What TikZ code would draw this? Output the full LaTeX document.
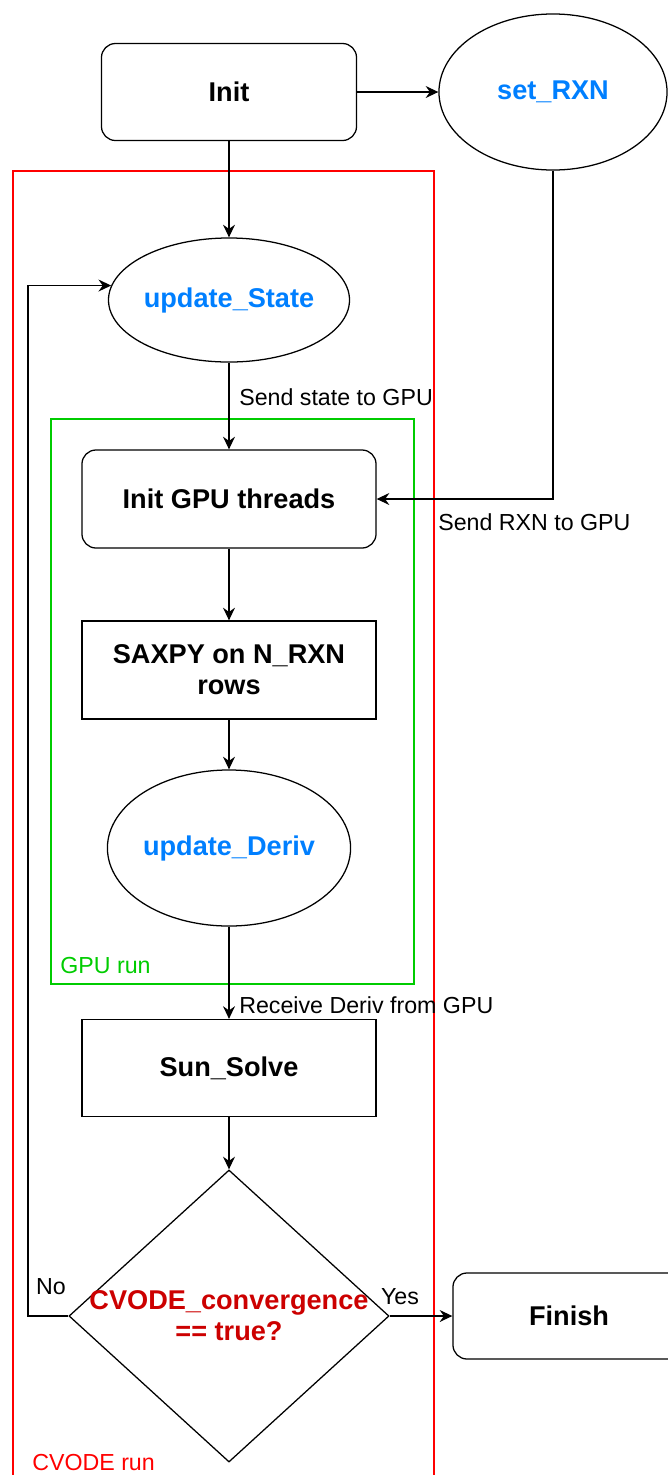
\documentclass[tikz,border=0pt]{standalone}
\usepackage{fontspec}
\setmainfont{Liberation Sans}
\usepackage{tikz}
\usetikzlibrary{positioning, arrows.meta, shapes.geometric}

\begin{document}
\begin{tikzpicture}[x=0.025cm, y=-0.025cm, line width=0.9pt,
    box/.style={draw, minimum width=7.35cm, minimum height=2.45cm, inner sep=0pt, align=center, font=\fontsize{19.3}{22}\selectfont\bfseries},
    roundbox/.style={box, rounded corners=10pt},
    oval/.style={draw, ellipse, inner sep=0pt, text=funccolor, font=\fontsize{19.3}{22}\selectfont\bfseries},
    decision/.style={draw, diamond, inner sep=0pt, minimum width=8cm, minimum height=7.3cm},
    condtext/.style={text=condcolor, align=center, font=\fontsize{19.3}{22}\selectfont\bfseries},
    edgelbl/.style={anchor=west, font=\fontsize{16.5}{19}\selectfont},
    flow/.style={-{Stealth[length=9pt, width=8.5pt, inset=3pt]}}]
    % Define colors
    \definecolor{funccolor}{RGB}{0, 127, 255}
    \definecolor{condcolor}{RGB}{204, 0, 0}
    \definecolor{cvodecolor}{RGB}{255, 0, 0}
    \definecolor{gpucolor}{RGB}{0, 204, 0}

    \useasboundingbox (0, 0) rectangle (668, 1475);

    % Run regions
    \draw[cvodecolor] (13, 171) rectangle (434, 1490);
    \node[edgelbl, text=cvodecolor] (cvodelbl) at (27, 1462) {CVODE run};
    \draw[gpucolor] (51, 419) rectangle (414, 984);
    \node[edgelbl, text=gpucolor] (gpulbl) at (55, 965) {GPU run};

    % Steps
    \node[roundbox, minimum width=6.375cm, minimum height=2.425cm] (init) at (229, 92) {Init};
    \node[oval, minimum width=5.7cm, minimum height=3.9cm] (setrxn) at (553, 92) {set\_RXN};
    \node[oval, minimum width=5.9cm, minimum height=3.1cm] (state) at (229, 300) {update\_State};
    \node[roundbox] (gputhreads) at (229, 499) {Init GPU threads};
    \node[box] (saxpy) at (229, 670) {SAXPY on N\_RXN\\rows};
    \node[oval, minimum width=5.9cm, minimum height=3.9cm] (deriv) at (229, 848) {update\_Deriv};
    \node[box, minimum height=2.425cm] (sunsolve) at (229, 1068) {Sun\_Solve};
    \node[decision, label={[condtext]center:{CVODE\_convergence\\== true?}}] (cond) at (229, 1316) {};
    \node[roundbox, minimum width=5.8cm, minimum height=2.15cm] (finish) at (569, 1316) {Finish};

    % Connectors
    \draw[flow] (init) -- (state);
    \draw[flow] (init) -- (setrxn);
    \draw[flow] (state) -- (gputhreads);
    \node[edgelbl] (sendstate) at (234, 397) {Send state to GPU};
    \draw[flow] (setrxn.south) |- (gputhreads.east);
    \node[edgelbl] (sendrxn) at (433, 522) {Send RXN to GPU};
    \draw[flow] (gputhreads) -- (saxpy);
    \draw[flow] (saxpy) -- (deriv);
    \draw[flow] (deriv) -- (sunsolve);
    \node[edgelbl] (recvderiv) at (234, 1005) {Receive Deriv from GPU};
    \draw[flow] (sunsolve) -- (cond);

    % Convergence branches
    \draw[flow] (cond) -- (finish);
    \node[edgelbl, anchor=center] (yeslbl) at (400, 1297) {Yes};
    \coordinate (loopcorner) at (28, 1316);
    \draw[flow] (cond.west) -- (loopcorner) |- (state.173);
    \node[edgelbl, anchor=center] (nolbl) at (51, 1287) {No};

\end{tikzpicture}
\end{document}
